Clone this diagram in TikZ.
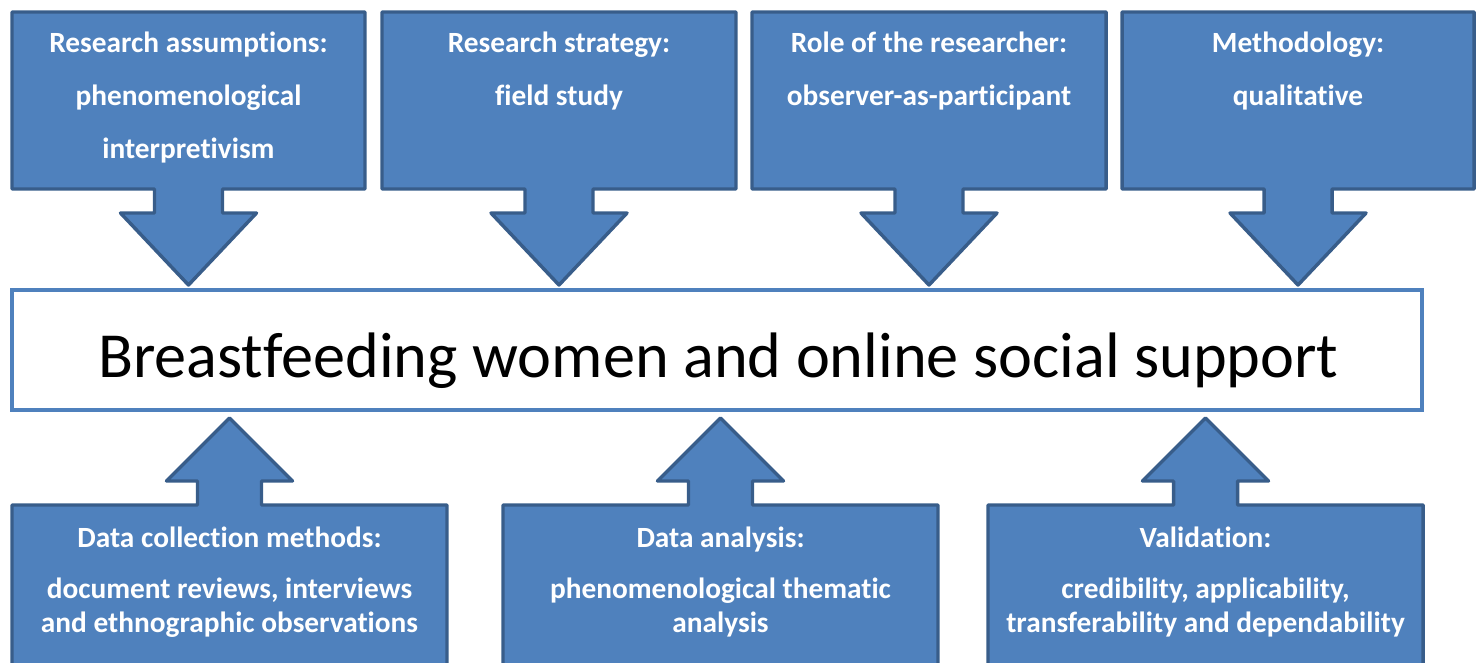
\documentclass[tikz,border=0pt]{standalone}
\usepackage{fontspec}
\setmainfont{Carlito}[Ligatures=NoCommon]
\usetikzlibrary{calc}
\definecolor{boxblue}{HTML}{4F81BD}
\definecolor{edgeblue}{HTML}{385D8A}
\begin{document}
\begin{tikzpicture}[x=0.75pt,y=-0.75pt,
  callout/.style={fill=boxblue,draw=edgeblue,line width=2.6pt,line join=round},
  toptext/.style={anchor=north,inner sep=0pt,text=white,align=center,font=\bfseries\fontsize{22}{39.5}\selectfont},
  bottext/.style={anchor=north,inner sep=0pt,text=white,align=center,font=\bfseries\fontsize{22}{25.5}\selectfont},
  mainbox/.style={draw=boxblue,fill=white,line width=2.6pt,minimum width=1057.5pt,minimum height=90pt,inner sep=0pt}]
\useasboundingbox (0,0) rectangle (1480,663);
\node[mainbox] (main) at (717,350) {};
\node[anchor=base,inner sep=0pt,font=\fontsize{48.2}{58}\selectfont] (title) at (718.5,377) {Breastfeeding women and online social support};
% top callouts
\draw[callout] (12,12) -- (365,12) -- (365,189) -- (222.5,189) -- (222.5,213) -- (256.5,213) -- (188.5,285) -- (120.5,213) -- (154.5,213) -- (154.5,189) -- (12,189) -- cycle;
\draw[callout] (382,12) -- (736,12) -- (736,189) -- (593,189) -- (593,213) -- (627,213) -- (559,285) -- (491,213) -- (525,213) -- (525,189) -- (382,189) -- cycle;
\draw[callout] (752,12) -- (1106,12) -- (1106,189) -- (963,189) -- (963,213) -- (997,213) -- (929,285) -- (861,213) -- (895,213) -- (895,189) -- (752,189) -- cycle;
\draw[callout] (1122,12) -- (1474,12) -- (1474,189) -- (1332,189) -- (1332,213) -- (1366,213) -- (1298,285) -- (1230,213) -- (1264,213) -- (1264,189) -- (1122,189) -- cycle;
% bottom callouts
\draw[callout] (12,680) -- (12,505) -- (197.5,505) -- (197.5,481) -- (166.5,481) -- (229.5,418) -- (292.5,481) -- (261.5,481) -- (261.5,505) -- (447,505) -- (447,680);
\draw[callout] (503,680) -- (503,505) -- (688.5,505) -- (688.5,481) -- (657.5,481) -- (720.5,418) -- (783.5,481) -- (752.5,481) -- (752.5,505) -- (938,505) -- (938,680);
\draw[callout] (988,680) -- (988,505) -- (1173.5,505) -- (1173.5,481) -- (1142.5,481) -- (1205.5,418) -- (1268.5,481) -- (1237.5,481) -- (1237.5,505) -- (1423,505) -- (1423,680);
\node[toptext] (assume) at (188.5,32) {Research assumptions:\\phenomenological\\interpretivism};
\node[toptext] (strategy) at (559,32) {Research strategy:\\field study};
\node[toptext] (role) at (929,32) {Role of the researcher:\\observer-as-participant};
\node[toptext] (method) at (1298,32) {Methodology:\\qualitative};
\node[bottext] (collect) at (229.5,526.5) {Data collection methods:\\[13pt]document reviews, interviews\\and ethnographic observations};
\node[bottext] (analysis) at (720.5,526.5) {Data analysis:\\[13pt]phenomenological thematic\\analysis};
\node[bottext] (valid) at (1205.5,526.5) {Validation:\\[13pt]credibility, applicability,\\transferability and dependability};
\end{tikzpicture}
\end{document}
